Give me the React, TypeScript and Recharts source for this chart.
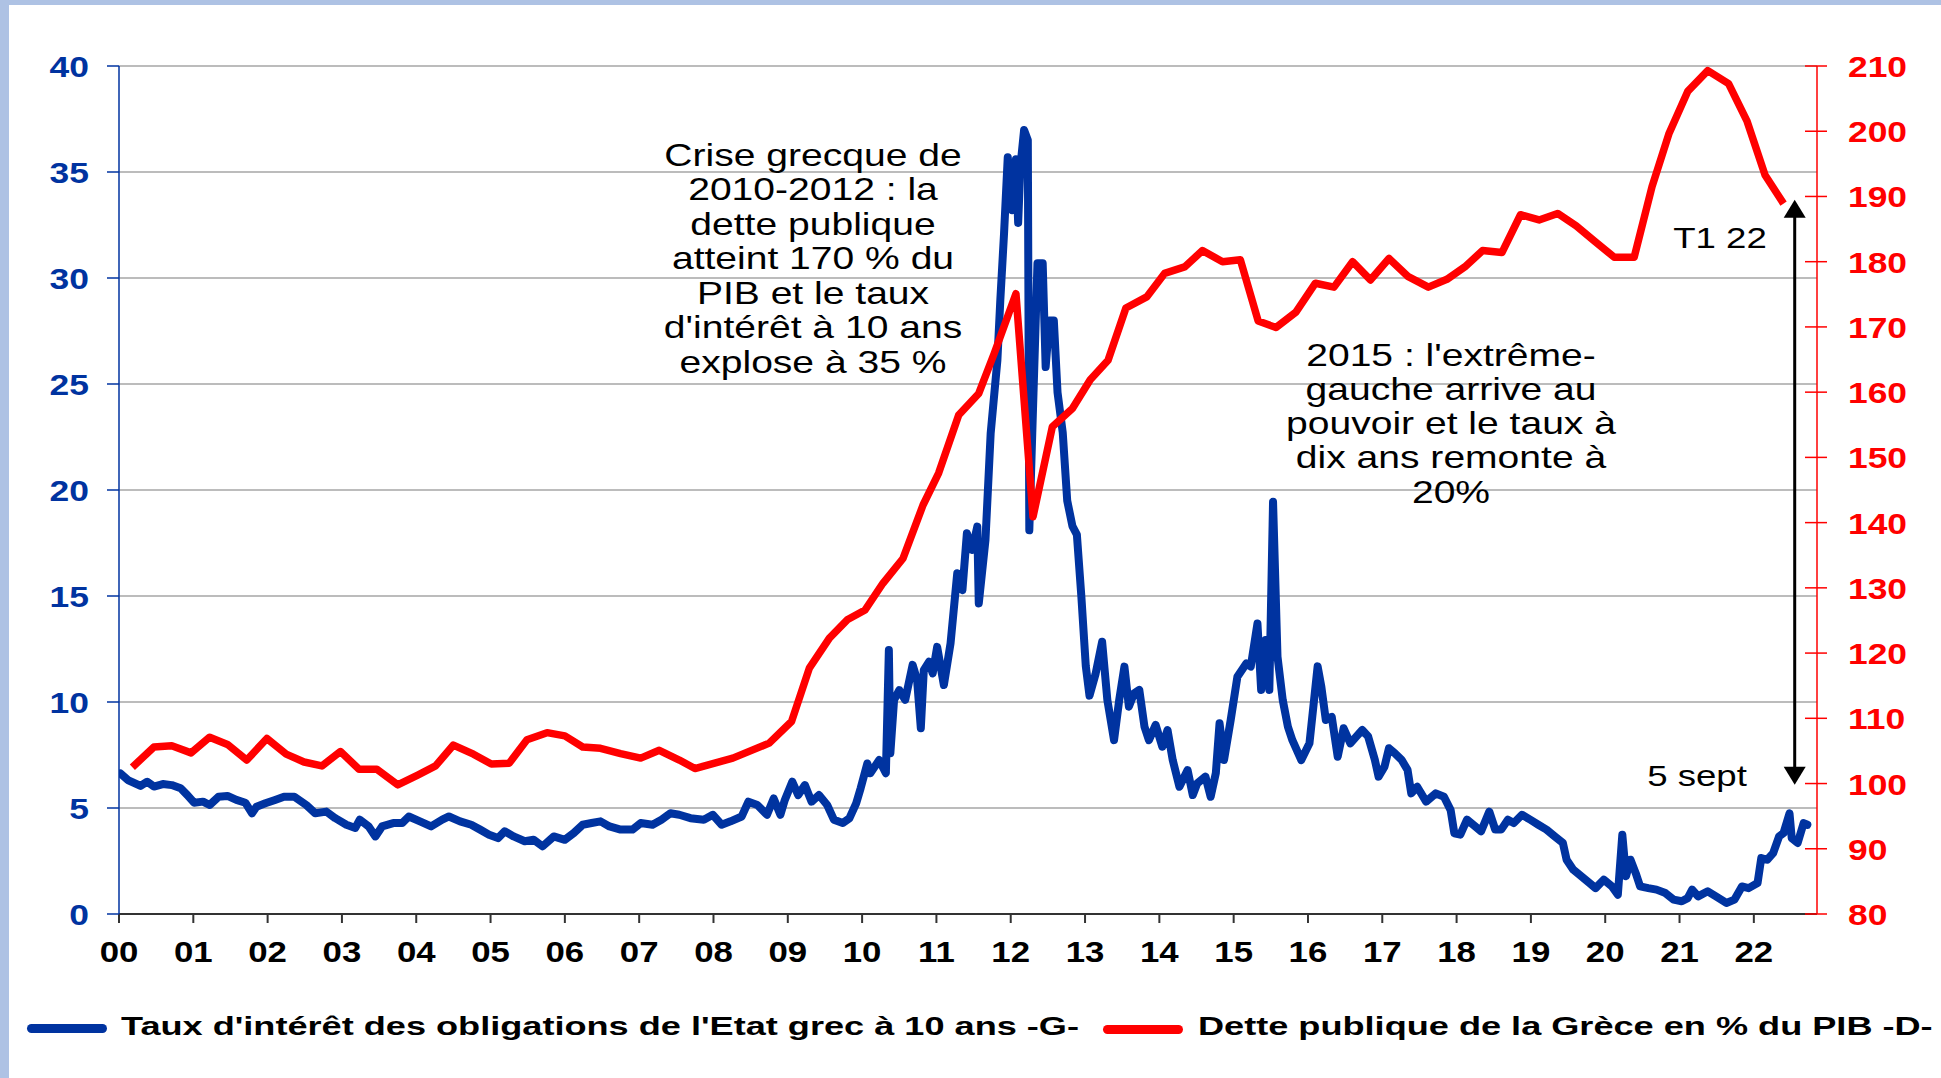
import { LineChart, Line, XAxis, YAxis, CartesianGrid, ReferenceLine, Legend } from 'recharts';

const BLUE = '#0033A0';
const RED = '#FF0000';
const FRAME = '#AEC2E4';
const FONT = '"Liberation Sans", Arial, sans-serif';

// x axis: one tick per year, labelled 00 .. 22
const yearTicks = [2000, 2001, 2002, 2003, 2004, 2005, 2006, 2007, 2008, 2009, 2010, 2011, 2012, 2013, 2014, 2015, 2016, 2017, 2018, 2019, 2020, 2021, 2022];
const rateTicks = [0, 5, 10, 15, 20, 25, 30, 35, 40];
const debtTicks = [80, 90, 100, 110, 120, 130, 140, 150, 160, 170, 180, 190, 200, 210];

const seriesNames = [
  "Taux d'intérêt des obligations de l'Etat grec à 10 ans -G-",
  'Dette publique de la Grèce en % du PIB -D-',
];

const crisisNote = ['Crise grecque de', '2010-2012 : la', 'dette publique', 'atteint 170 % du', 'PIB et le taux', "d'intérêt à 10 ans", 'explose à 35 %'];
const leftNote = ["2015 : l'extrême-", 'gauche arrive au', 'pouvoir et le taux à', 'dix ans remonte à', '20%'];

// public debt, % of GDP (right axis), quarterly
const debtPoints: [number, number][] = [
  [2000.18, 102.5], [2000.47, 105.6], [2000.71, 105.8], [2000.97, 104.7], [2001.22, 107.1], [2001.46, 106.0],
  [2001.72, 103.6], [2001.99, 106.9], [2002.25, 104.5], [2002.49, 103.3], [2002.73, 102.7], [2002.98, 104.9],
  [2003.23, 102.2], [2003.47, 102.2], [2003.75, 99.8], [2004.02, 101.3], [2004.26, 102.7], [2004.5, 105.9],
  [2004.77, 104.5], [2005.01, 103.0], [2005.25, 103.1], [2005.49, 106.7], [2005.76, 107.8], [2006.0, 107.3],
  [2006.24, 105.6], [2006.48, 105.4], [2006.75, 104.6], [2007.02, 103.9], [2007.27, 105.1], [2007.54, 103.6],
  [2007.75, 102.3], [2008.26, 103.9], [2008.75, 106.2], [2009.05, 109.5], [2009.29, 117.7], [2009.56, 122.3],
  [2009.8, 125.1], [2010.04, 126.6], [2010.28, 130.7], [2010.55, 134.5], [2010.82, 142.7], [2011.03, 147.6],
  [2011.3, 156.5], [2011.57, 159.8], [2011.78, 166.0], [2012.07, 175.1], [2012.3, 140.9], [2012.56, 154.7],
  [2012.83, 157.5], [2013.07, 161.9], [2013.31, 164.9], [2013.55, 172.9], [2013.83, 174.6], [2014.07, 178.2],
  [2014.34, 179.2], [2014.58, 181.7], [2014.85, 180.0], [2015.09, 180.3], [2015.33, 170.9], [2015.57, 169.9],
  [2015.84, 172.3], [2016.1, 176.7], [2016.35, 176.1], [2016.6, 180.0], [2016.84, 177.2], [2017.09, 180.5],
  [2017.35, 177.7], [2017.62, 176.1], [2017.87, 177.3], [2018.11, 179.2], [2018.35, 181.7], [2018.61, 181.4],
  [2018.86, 187.2], [2019.11, 186.4], [2019.36, 187.4], [2019.61, 185.5], [2019.86, 183.1], [2020.12, 180.7],
  [2020.39, 180.7], [2020.63, 191.5], [2020.86, 199.7], [2021.11, 206.1], [2021.38, 209.3], [2021.66, 207.3],
  [2021.91, 201.5], [2022.15, 193.3], [2022.4, 188.9],
];

// 10-year government bond yield, % (left axis)
const ratePoints: [number, number][] = [
  [2000.02, 6.63], [2000.12, 6.32], [2000.29, 6.04], [2000.38, 6.24], [2000.47, 6.01], [2000.59, 6.13],
  [2000.71, 6.08], [2000.83, 5.93], [2000.92, 5.61], [2001.01, 5.25], [2001.13, 5.3], [2001.22, 5.14],
  [2001.34, 5.53], [2001.46, 5.57], [2001.58, 5.38], [2001.7, 5.25], [2001.79, 4.75], [2001.85, 5.06],
  [2001.97, 5.22], [2002.1, 5.38], [2002.22, 5.53], [2002.36, 5.53], [2002.52, 5.14], [2002.64, 4.75],
  [2002.79, 4.83], [2002.91, 4.52], [2003.06, 4.21], [2003.18, 4.06], [2003.24, 4.45], [2003.36, 4.13],
  [2003.45, 3.66], [2003.54, 4.13], [2003.69, 4.29], [2003.81, 4.29], [2003.9, 4.6], [2004.05, 4.37],
  [2004.2, 4.13], [2004.35, 4.45], [2004.44, 4.6], [2004.59, 4.37], [2004.74, 4.21], [2004.86, 3.98],
  [2004.98, 3.74], [2005.1, 3.58], [2005.19, 3.9], [2005.31, 3.66], [2005.46, 3.43], [2005.58, 3.5],
  [2005.7, 3.19], [2005.85, 3.66], [2006.0, 3.5], [2006.12, 3.82], [2006.24, 4.21], [2006.36, 4.29],
  [2006.48, 4.37], [2006.6, 4.13], [2006.75, 3.98], [2006.91, 3.98], [2007.02, 4.29], [2007.18, 4.21],
  [2007.3, 4.45], [2007.42, 4.75], [2007.54, 4.68], [2007.69, 4.52], [2007.87, 4.45], [2007.99, 4.68],
  [2008.11, 4.21], [2008.23, 4.37], [2008.38, 4.6], [2008.47, 5.3], [2008.59, 5.14], [2008.72, 4.68],
  [2008.81, 5.45], [2008.9, 4.68], [2008.96, 5.38], [2009.06, 6.24], [2009.14, 5.61], [2009.23, 6.08],
  [2009.32, 5.3], [2009.42, 5.61], [2009.53, 5.14], [2009.62, 4.45], [2009.74, 4.29], [2009.83, 4.52],
  [2009.92, 5.22], [2009.98, 5.93], [2010.07, 7.1], [2010.11, 6.64], [2010.23, 7.26], [2010.32, 6.64],
  [2010.36, 12.45], [2010.38, 7.58], [2010.43, 10.1], [2010.5, 10.56], [2010.58, 10.1], [2010.68, 11.75],
  [2010.74, 11.04], [2010.79, 8.76], [2010.83, 11.5], [2010.9, 11.9], [2010.95, 11.35], [2011.01, 12.6],
  [2011.1, 10.8], [2011.19, 12.77], [2011.28, 16.07], [2011.35, 15.28], [2011.41, 17.96], [2011.48, 17.17],
  [2011.55, 18.27], [2011.57, 14.65], [2011.66, 17.64], [2011.73, 22.67], [2011.82, 26.1], [2011.86, 28.96],
  [2011.91, 32.1], [2011.96, 35.7], [2012.02, 33.2], [2012.07, 35.6], [2012.1, 32.6], [2012.13, 35.25],
  [2012.18, 36.98], [2012.23, 36.5], [2012.25, 18.1], [2012.31, 25.0], [2012.36, 30.7], [2012.43, 30.7],
  [2012.47, 25.8], [2012.52, 28.0], [2012.58, 28.0], [2012.63, 24.6], [2012.7, 22.7], [2012.76, 19.5],
  [2012.83, 18.3], [2012.89, 17.9], [2012.95, 15.0], [2013.01, 11.7], [2013.06, 10.3], [2013.14, 11.3],
  [2013.23, 12.84], [2013.3, 10.1], [2013.39, 8.2], [2013.46, 10.1], [2013.53, 11.67], [2013.59, 9.78],
  [2013.66, 10.41], [2013.73, 10.57], [2013.8, 8.83], [2013.86, 8.2], [2013.95, 8.92], [2014.04, 7.89],
  [2014.11, 8.68], [2014.18, 7.26], [2014.27, 6.0], [2014.38, 6.79], [2014.45, 5.61], [2014.51, 6.16],
  [2014.62, 6.48], [2014.69, 5.53], [2014.76, 6.64], [2014.81, 9.0], [2014.87, 7.26], [2014.96, 9.15],
  [2015.05, 11.19], [2015.17, 11.82], [2015.23, 11.67], [2015.32, 13.7], [2015.37, 10.57], [2015.43, 12.92],
  [2015.48, 10.57], [2015.53, 19.44], [2015.59, 12.14], [2015.66, 10.1], [2015.73, 8.83], [2015.79, 8.2],
  [2015.91, 7.26], [2016.02, 8.05], [2016.13, 11.68], [2016.18, 10.72], [2016.24, 9.15], [2016.32, 9.3],
  [2016.4, 7.42], [2016.48, 8.76], [2016.57, 8.05], [2016.65, 8.37], [2016.73, 8.68], [2016.81, 8.37],
  [2016.9, 7.27], [2016.95, 6.48], [2017.03, 6.95], [2017.09, 7.82], [2017.17, 7.58], [2017.26, 7.27],
  [2017.34, 6.8], [2017.39, 5.69], [2017.47, 6.0], [2017.59, 5.3], [2017.72, 5.69], [2017.83, 5.53],
  [2017.92, 4.9], [2017.97, 3.8], [2018.05, 3.74], [2018.14, 4.45], [2018.25, 4.13], [2018.33, 3.9],
  [2018.44, 4.83], [2018.52, 3.98], [2018.6, 3.98], [2018.69, 4.45], [2018.77, 4.29], [2018.88, 4.68],
  [2018.99, 4.45], [2019.1, 4.21], [2019.21, 3.98], [2019.32, 3.66], [2019.43, 3.35], [2019.48, 2.56],
  [2019.57, 2.09], [2019.68, 1.78], [2019.79, 1.46], [2019.87, 1.22], [2019.98, 1.62], [2020.09, 1.3],
  [2020.17, 0.91], [2020.23, 3.74], [2020.28, 1.78], [2020.34, 2.56], [2020.41, 1.93], [2020.47, 1.3],
  [2020.58, 1.22], [2020.69, 1.15], [2020.81, 0.99], [2020.92, 0.68], [2021.03, 0.6], [2021.11, 0.75],
  [2021.17, 1.15], [2021.25, 0.83], [2021.38, 1.07], [2021.49, 0.83], [2021.63, 0.52], [2021.74, 0.68],
  [2021.84, 1.3], [2021.93, 1.22], [2022.05, 1.46], [2022.1, 2.64], [2022.18, 2.56], [2022.26, 2.87],
  [2022.34, 3.66], [2022.4, 3.82], [2022.48, 4.75], [2022.51, 3.58], [2022.59, 3.35], [2022.67, 4.29],
  [2022.72, 4.21],
];

// arrow from "5 sept" (about 100 on the right scale) up to T1 22 (about 190)
const arrowDate = 2022.55;
const arrowFrom = 99.8;
const arrowTo = 189.5;

const debtData = debtPoints.map(([t, v]) => ({ t, v }));
const rateData = ratePoints.map(([t, v]) => ({ t, v }));

// the original picture is stretched sideways, so the glyphs get a horizontal scale
const stretch = (x: number, s: number) => `translate(${x} 0) scale(${s} 1) translate(${-x} 0)`;

const LeftTick = ({ x, y, payload }: any) => (
  <text x={x} y={y} dy={11} textAnchor="end" fill={BLUE} fontSize={30} fontWeight="bold" fontFamily={FONT} transform={stretch(x, 1.18)}>
    {payload.value}
  </text>
);

const RightTick = ({ x, y, payload }: any) => (
  <g>
    <line x1={x - 12} x2={x + 10} y1={y} y2={y} stroke={RED} strokeWidth={1.5} />
    <text x={x + 31} y={y} dy={11} textAnchor="start" fill={RED} fontSize={30} fontWeight="bold" fontFamily={FONT} transform={stretch(x + 31, 1.18)}>
      {payload.value}
    </text>
  </g>
);

const YearTick = ({ x, y, payload }: any) => (
  <text x={x} y={y} dy={39} textAnchor="middle" fill="#000" fontSize={30} fontWeight="bold" fontFamily={FONT} transform={stretch(x, 1.16)}>
    {String(payload.value % 100).padStart(2, '0')}
  </text>
);

const Arrow = (props: any) => {
  const { x1, y1, y2 } = props;
  const top = Math.min(y1, y2);
  const bot = Math.max(y1, y2);
  return (
    <g>
      <line x1={x1} x2={x1} y1={top + 12} y2={bot - 12} stroke="#000" strokeWidth={3} />
      <polygon points={`${x1},${top} ${x1 - 11},${top + 18} ${x1 + 11},${top + 18}`} fill="#000" />
      <polygon points={`${x1},${bot} ${x1 - 11},${bot - 18} ${x1 + 11},${bot - 18}`} fill="#000" />
    </g>
  );
};

const legendText = {
  position: 'absolute' as const,
  top: 15,
  fontSize: 25,
  lineHeight: '25px',
  fontWeight: 'bold' as const,
  whiteSpace: 'nowrap' as const,
  color: '#000',
  transform: 'scaleX(1.445)',
  transformOrigin: 'left center',
};

const LegendBox = () => (
  <div style={{ position: 'relative', width: 1941, height: 56, fontFamily: FONT }}>
    <div style={{ position: 'absolute', left: 27, top: 25, width: 80, height: 9, borderRadius: 5, background: BLUE }} />
    <span style={{ ...legendText, left: 121 }}>{seriesNames[0]}</span>
    <div style={{ position: 'absolute', left: 1103, top: 26, width: 80, height: 9, borderRadius: 5, background: RED }} />
    <span style={{ ...legendText, left: 1198 }}>{seriesNames[1]}</span>
  </div>
);

const Note = ({ lines, cx, top, size, lh }: { lines: string[]; cx: number; top: number; size: number; lh: number }) => (
  <div
    style={{
      position: 'absolute',
      left: cx - 200,
      top,
      width: 400,
      textAlign: 'center',
      fontFamily: FONT,
      fontSize: size,
      lineHeight: `${lh}px`,
      color: '#000',
      transform: 'scaleX(1.22)',
      transformOrigin: 'center',
      whiteSpace: 'nowrap',
    }}
  >
    {lines.map((l) => (
      <div key={l}>{l}</div>
    ))}
  </div>
);

export default function App() {
  return (
    <div style={{ position: 'absolute', left: 0, top: 0, width: 1941, height: 1078, background: FRAME, overflow: 'hidden' }}>
      <div style={{ position: 'absolute', left: 9, top: 5, right: 0, bottom: 0, background: '#fff' }} />
      <div style={{ position: 'absolute', left: 0, top: 0 }}>
        <LineChart width={1941} height={1078} margin={{ top: 66, right: 0, bottom: 23, left: 0 }}>
          <CartesianGrid yAxisId="left" vertical={false} stroke="#A6A6A6" strokeWidth={1.7} />
          <XAxis
            type="number"
            dataKey="t"
            domain={[2000, 2022.85]}
            allowDataOverflow
            ticks={yearTicks}
            interval={0}
            height={85}
            tickSize={9}
            tickMargin={0}
            axisLine={{ stroke: '#333', strokeWidth: 2 }}
            tickLine={{ stroke: '#333', strokeWidth: 2 }}
            tick={YearTick}
          />
          <YAxis
            yAxisId="left"
            domain={[0, 40]}
            ticks={rateTicks}
            interval={0}
            width={119}
            tickSize={12}
            tickMargin={18}
            axisLine={{ stroke: BLUE, strokeWidth: 1.5 }}
            tickLine={{ stroke: BLUE, strokeWidth: 1.5 }}
            tick={LeftTick}
          />
          <YAxis
            yAxisId="right"
            orientation="right"
            domain={[80, 210]}
            ticks={debtTicks}
            interval={0}
            width={124}
            tickSize={0}
            tickMargin={0}
            tickLine={false}
            axisLine={{ stroke: RED, strokeWidth: 1.5 }}
            tick={RightTick}
          />
          <Line
            yAxisId="left"
            data={rateData}
            dataKey="v"
            name={seriesNames[0]}
            type="linear"
            stroke={BLUE}
            strokeWidth={8}
            strokeLinejoin="round"
            strokeLinecap="round"
            dot={false}
            activeDot={false}
            isAnimationActive={false}
          />
          <Line
            yAxisId="right"
            data={debtData}
            dataKey="v"
            name={seriesNames[1]}
            type="linear"
            stroke={RED}
            strokeWidth={7.5}
            strokeLinejoin="round"
            dot={false}
            activeDot={false}
            isAnimationActive={false}
          />
          <ReferenceLine
            yAxisId="right"
            segment={[{ x: arrowDate, y: arrowFrom }, { x: arrowDate, y: arrowTo }]}
            stroke="#000"
            strokeWidth={3}
            shape={Arrow}
          />
          <Legend verticalAlign="bottom" content={LegendBox} />
        </LineChart>
      </div>
      <Note lines={crisisNote} cx={813} top={137.6} size={32} lh={34.5} />
      <Note lines={leftNote} cx={1451} top={337.6} size={32} lh={34.25} />
      <Note lines={['T1 22']} cx={1720} top={223} size={30} lh={30} />
      <Note lines={['5 sept']} cx={1697} top={761} size={30} lh={30} />
    </div>
  );
}
